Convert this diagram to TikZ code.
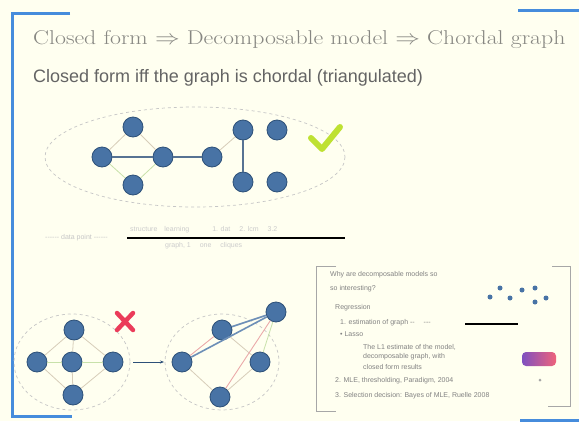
\documentclass[tikz,border=0pt]{standalone}
\usepackage{fontspec}
\setmainfont{Latin Modern Roman}
\newfontfamily\slidesans{Liberation Sans}
\usetikzlibrary{arrows.meta}
\definecolor{bgcol}{RGB}{255,255,240}
\definecolor{frameblue}{RGB}{70,140,220}
\definecolor{nodeblue}{RGB}{72,115,165}
\definecolor{nodeedge}{RGB}{45,80,120}
\definecolor{checkgreen}{RGB}{190,225,50}
\definecolor{crossred}{RGB}{235,60,90}
\definecolor{titlegray}{RGB}{135,135,130}
\definecolor{textgray}{RGB}{100,100,100}
\definecolor{faint}{RGB}{215,205,185}
\definecolor{faintgreen}{RGB}{200,225,170}
\definecolor{faintred}{RGB}{235,170,170}
\definecolor{tinygray}{RGB}{130,130,130}
\tikzset{
  gnode/.style={circle,fill=nodeblue,draw=nodeedge,line width=0.8pt,minimum size=20pt,inner sep=0pt},
  snode/.style={circle,fill=nodeblue,minimum size=5pt,inner sep=0pt},
  strong/.style={draw=nodeedge!80,line width=1.2pt},
  weak/.style={draw=faint,line width=0.8pt},
  weakg/.style={draw=faintgreen,line width=0.8pt},
  weakr/.style={draw=faintred,line width=0.9pt},
  framebar/.style={draw=frameblue,line width=3pt},
  panelbar/.style={draw=tinygray!70,line width=1pt},
  hull/.style={draw=gray!45,dashed,line width=0.7pt},
  tiny/.style={font=\slidesans\fontsize{7}{8}\selectfont,text=tinygray,anchor=west,inner sep=0pt}
}
\begin{document}
\begin{tikzpicture}[x=1pt,y=-1pt]
\fill[bgcol] (0,0) rectangle (579,421);
\useasboundingbox (0,0) rectangle (579,421);
% slide frame corners
\draw[framebar] (70,13) -- (12,13) -- (12,416) -- (72,416);
\draw[framebar] (518,10) -- (579,10);
\draw[framebar] (520,420) -- (579,420);
% titles
\node[anchor=west,text=titlegray,font=\fontsize{20}{22}\selectfont,inner sep=0pt,xscale=1.19] (t1) at (33,40) {Closed form $\Rightarrow$ Decomposable model $\Rightarrow$ Chordal graph};
\node[anchor=west,text=textgray,font=\slidesans\fontsize{18}{20}\selectfont,inner sep=0pt] (t2) at (33,78) {Closed form iff the graph is chordal (triangulated)};
% top graph
\draw[hull] (195,157) ellipse [x radius=150,y radius=50];
\node[gnode] (n1) at (102,157) {};
\node[gnode] (n2) at (133,127) {};
\node[gnode] (n3) at (133,185) {};
\node[gnode] (n4) at (163,157) {};
\node[gnode] (n5) at (212,157) {};
\node[gnode] (n6) at (243,130) {};
\node[gnode] (n7) at (277,130) {};
\node[gnode] (n8) at (243,182) {};
\node[gnode] (n9) at (277,182) {};
\draw[weak] (n1) -- (n2);
\draw[weakg] (n1) -- (n3);
\draw[weak] (n2) -- (n4);
\draw[weakg] (n3) -- (n4);
\draw[weak] (n5) -- (n6);
\draw[strong] (n1) -- (n4);
\draw[strong] (n4) -- (n5);
\draw[strong] (n6) -- (n8);
% check mark
\draw[checkgreen,line width=6pt,line cap=round,line join=round] (311,138) -- (322,149) -- (340,127);
% timeline under the top graph
\coordinate (l0) at (127,238);
\coordinate (l1) at (345,238);
\draw[black,line width=1.8pt] (l0) -- (l1);
\node[tiny,text=gray!45] (la) at (45,238) {------ data point ------};
\node[tiny,text=gray!40] (lb) at (130,230) {structure\quad learning \qquad\quad 1. dat \quad 2. lcm \quad 3.2};
\node[tiny,text=gray!40] (lc) at (165,246) {graph, 1 \quad one \quad cliques};
% bottom-left non-chordal graph
\draw[hull] (72,362) ellipse [x radius=58,y radius=48];
\node[gnode] (a) at (74,330) {};
\node[gnode] (b) at (37,362) {};
\node[gnode] (c) at (72,362) {};
\node[gnode] (d) at (113,362) {};
\node[gnode] (e) at (73,395) {};
\draw[weak] (a) -- (b);
\draw[weak] (a) -- (d);
\draw[weak] (b) -- (e);
\draw[weak] (d) -- (e);
\draw[weakg] (b) -- (c);
\draw[weakg] (c) -- (d);
\draw[weak] (a) -- (c);
\draw[weak] (c) -- (e);
% red cross
\draw[crossred,line width=4.5pt,line cap=round] (117,313) -- (133,330) (133,313) -- (117,330);
% transformation arrow
\draw[-{Stealth[length=4pt]},draw=nodeedge,line width=0.8pt] (133,362) -- (164,362);
% bottom-middle triangulated graph
\draw[hull] (222,362) ellipse [x radius=57,y radius=48];
\node[gnode] (p) at (222,330) {};
\node[gnode] (q) at (182,362) {};
\node[gnode] (r) at (260,362) {};
\node[gnode] (s) at (220,397) {};
\node[gnode] (f) at (276,312) {};
\draw[weakr] (q) -- (p);
\draw[weak] (p) -- (r);
\draw[weak] (q) -- (s);
\draw[weak] (s) -- (r);
\draw[weakr] (s) -- (f);
\draw[weakg] (r) -- (f);
\draw[draw=nodeblue!80,line width=1.6pt] (q) -- (f);
\draw[draw=nodeblue!80,line width=1.6pt] (p) -- (f);
% right panel (inset slide)
\draw[panelbar] (336,266) -- (316,266) -- (316,411) -- (336,411);
\draw[panelbar] (552,266) -- (570,266) -- (570,406) -- (548,406);
\node[tiny] (w1) at (330,275) {Why are decomposable models so};
\node[tiny] (w2) at (330,289) {so interesting?};
\node[tiny] (w3) at (335,308) {Regression};
\node[tiny] (w4) at (340,323) {1. estimation of graph -- \quad ---};
\node[tiny] (w5) at (340,334) {\textbullet\ Lasso};
\node[tiny] (w6) at (363,347) {The L1 estimate of the model,};
\node[tiny] (w7) at (363,357) {decomposable graph, with};
\node[tiny] (w8) at (363,367) {closed form results};
\node[tiny] (w9) at (335,381) {2. MLE, thresholding, Paradigm, 2004};
\node[tiny] (w10) at (335,396) {3. Selection decision: Bayes of MLE, Ruelle 2008};
\coordinate (m0) at (465,324);
\coordinate (m1) at (518,324);
\draw[black,line width=1.5pt] (m0) -- (m1);
\node[snode] (s1) at (500,288) {};
\node[snode] (s2) at (510,298) {};
\node[snode] (s3) at (522,290) {};
\node[snode] (s4) at (535,288) {};
\node[snode] (s5) at (535,302) {};
\node[snode] (s6) at (546,298) {};
\node[snode] (s7) at (490,297) {};
\shade[left color=nodeblue!70!magenta,right color=crossred!80,rounded corners=4pt] (522,352) rectangle (556,366);
\node[snode,fill=gray!70,minimum size=3pt] (g1) at (540,380) {};
\end{tikzpicture}
\end{document}
